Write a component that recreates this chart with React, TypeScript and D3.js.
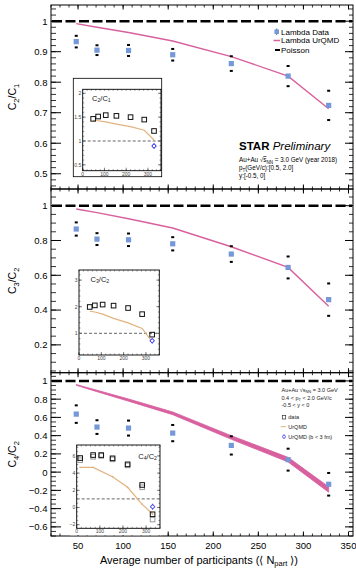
import React from 'react';
import * as d3 from 'd3';

// ---------- data ----------
const nPart = [48, 71, 106, 155, 220, 283, 328];

const c21Data = [0.933, 0.905, 0.904, 0.89, 0.861, 0.82, 0.724];
const c21Err = [0.019, 0.016, 0.018, 0.019, 0.024, 0.033, 0.048];
const c21Urqmd = [0.992, 0.98, 0.963, 0.935, 0.884, 0.82, 0.713];

const c32Data = [0.866, 0.808, 0.804, 0.781, 0.722, 0.645, 0.46];
const c32Err = [0.038, 0.034, 0.036, 0.038, 0.045, 0.063, 0.093];
const c32Urqmd = [0.981, 0.96, 0.925, 0.872, 0.764, 0.645, 0.422];

const c42Data = [0.636, 0.494, 0.483, 0.428, 0.293, 0.137, -0.133];
const c42Err = [0.096, 0.075, 0.082, 0.089, 0.1, 0.12, 0.124];
const c42Urqmd = [0.956, 0.89, 0.79, 0.645, 0.38, 0.137, -0.19];
const c42UrqmdErr = [0.004, 0.008, 0.012, 0.015, 0.02, 0.025, 0.03];

// insets (proton reference)
const inset1Data = [1.464, 1.513, 1.542, 1.527, 1.5, 1.449, 1.21];
const inset1Urqmd = [1.43, 1.425, 1.4, 1.355, 1.3, 1.225, 1.02];
const inset1B3 = 0.895;

const inset2Data = [1.99, 2.05, 2.08, 2.04, 1.95, 1.72, 0.95];
const inset2Urqmd = [1.83, 1.8, 1.72, 1.56, 1.39, 1.18, 0.68];
const inset2B3 = 0.72;

const inset3N = [15, 71, 106, 155, 220, 283, 328];
const inset3Data = [5.75, 6.1, 6.1, 5.72, 5.02, 2.62, -0.79];
const inset3Gray = [5.5, 5.9, 6.0, 5.6, 4.9, 2.35, -1.4];
const inset3UrqmdN = [15, 71, 155, 220, 283, 328];
const inset3Urqmd = [4.67, 4.67, 3.58, 2.35, 0.37, -0.76];
const inset3B3 = 0.09;

const xTickLabels = [50, 100, 150, 200, 250, 300, 350];

// ---------- style ----------
const FONT = "'Liberation Sans', Arial, Helvetica, sans-serif";
const BLUE = '#7598d8';
const PINK = '#d8609e';
const ORANGE = '#e2b37e';
const MARKBLUE = '#2f2ff0';

function rangeTicks(lo: number, hi: number, step: number) {
  const out: number[] = [];
  const start = Math.ceil(lo / step - 1e-6);
  for (let k = start; k * step <= hi + 1e-6; k++) out.push(+(k * step).toFixed(6));
  return out;
}

function fmt(v: number) {
  const s = String(+v.toFixed(2));
  return s.startsWith('-') ? '\u2212' + s.slice(1) : s;
}

type PanelSpec = {
  key: string;
  top: number;
  bottom: number;
  domain: [number, number];
  majorStep: number;
  minorStep: number;
  data: number[];
  err: number[];
  urqmd: number[];
  band: number[] | null;
  title: [string, string, string, string];
};

const x = d3.scaleLinear().domain([20, 355]).range([51, 353]);

function MainPanel({ p, showXLabels }: { p: PanelSpec; showXLabels: boolean }) {
  const y = d3.scaleLinear().domain(p.domain).range([p.bottom, p.top]);
  const [x0, x1] = x.range();
  const majors = rangeTicks(p.domain[0], p.domain[1], p.majorStep);
  const minors = rangeTicks(p.domain[0], p.domain[1], p.minorStep);
  const xMaj = rangeTicks(50, 350, 50);
  const xMin = rangeTicks(20, 355, 10);
  const line = d3
    .line<number>()
    .x((_, i) => x(nPart[i]))
    .y((d) => y(d));
  const area = d3
    .area<number>()
    .x((_, i) => x(nPart[i]))
    .y0((d, i) => y(d - (p.band ? p.band[i] : 0)))
    .y1((d, i) => y(d + (p.band ? p.band[i] : 0)));
  const midY = (p.top + p.bottom) / 2;
  return (
    <g>
      {minors.map((v) => (
        <g key={'mi' + v}>
          <line x1={x0} x2={x0 + 5} y1={y(v)} y2={y(v)} stroke="#000" strokeWidth={0.8} />
          <line x1={x1} x2={x1 - 4} y1={y(v)} y2={y(v)} stroke="#000" strokeWidth={0.8} />
        </g>
      ))}
      {majors.map((v) => (
        <g key={'ma' + v}>
          <line x1={x0} x2={x0 + 10} y1={y(v)} y2={y(v)} stroke="#000" strokeWidth={1} />
          <line x1={x1} x2={x1 - 8} y1={y(v)} y2={y(v)} stroke="#000" strokeWidth={1} />
          <text x={47.5} y={y(v) + 3.4} textAnchor="end" fontSize={9.5} fontFamily={FONT}>
            {fmt(v)}
          </text>
        </g>
      ))}
      {xMin.map((v) => (
        <g key={'xm' + v}>
          <line x1={x(v)} x2={x(v)} y1={p.bottom} y2={p.bottom - 2.5} stroke="#000" strokeWidth={0.8} />
          <line x1={x(v)} x2={x(v)} y1={p.top} y2={p.top + 2.5} stroke="#000" strokeWidth={0.8} />
        </g>
      ))}
      {xMaj.map((v) => (
        <g key={'xM' + v}>
          <line x1={x(v)} x2={x(v)} y1={p.bottom} y2={p.bottom - 4.5} stroke="#000" strokeWidth={1} />
          <line x1={x(v)} x2={x(v)} y1={p.top} y2={p.top + 4.5} stroke="#000" strokeWidth={1} />
        </g>
      ))}
      {showXLabels &&
        xTickLabels.map((v) => (
          <text key={'xl' + v} x={x(v)} y={p.bottom + 13} textAnchor="middle" fontSize={9.5} fontFamily={FONT}>
            {v}
          </text>
        ))}
      <rect x={x0} y={p.top} width={x1 - x0} height={p.bottom - p.top} fill="none" stroke="#000" strokeWidth={1} />
      <line x1={x0 + 1} x2={x1 - 1} y1={y(1)} y2={y(1)} stroke="#000" strokeWidth={2.5} strokeDasharray="10 3.5" />
      {p.band ? (
        <path d={area(p.urqmd) || ''} fill={PINK} stroke={PINK} strokeWidth={0.8} />
      ) : (
        <path d={line(p.urqmd) || ''} fill="none" stroke={PINK} strokeWidth={1.4} />
      )}
      {p.data.map((v, i) => (
        <g key={'d' + i}>
          <rect x={x(nPart[i]) - 1.5} y={y(v + p.err[i]) - 1} width={3} height={2} fill="#000" />
          <rect x={x(nPart[i]) - 1.5} y={y(v - p.err[i]) - 1} width={3} height={2} fill="#000" />
          <rect x={x(nPart[i]) - 2.6} y={y(v) - 2.6} width={5.2} height={5.2} fill={BLUE} />
        </g>
      ))}
      <text transform={`translate(16,${midY}) rotate(-90)`} textAnchor="middle" fontSize={10.5} fontFamily={FONT}>
        {p.title[0]}
        <tspan fontSize={7.5} dy={2.5}>{p.title[1]}</tspan>
        <tspan dy={-2.5}>{p.title[2]}</tspan>
        <tspan fontSize={7.5} dy={2.5}>{p.title[3]}</tspan>
      </text>
    </g>
  );
}

type InsetSpec = {
  frame: { x0: number; x1: number; y0: number; y1: number };
  outer?: { x0: number; x1: number; y0: number; y1: number };
  yDomain: [number, number];
  yMajor: number[];
  yMinorStep: number;
  n: number[];
  data: number[];
  gray?: number[];
  urqmdN: number[];
  urqmd: number[];
  dots?: boolean;
  b3: number;
  label: [string, string, string, string];
  labelX: number;
  labelY: number;
  labelAnchor: 'start' | 'end';
};

function Inset({ s }: { s: InsetSpec }) {
  const { frame } = s;
  const ix = d3.scaleLinear().domain([0, 360]).range([frame.x0, frame.x1]);
  const iy = d3.scaleLinear().domain(s.yDomain).range([frame.y1, frame.y0]);
  const yMin = rangeTicks(s.yDomain[0], s.yDomain[1], s.yMinorStep);
  const xMin = rangeTicks(0, 360, 20);
  const xMaj = [0, 100, 200, 300];
  const line = d3
    .line<number>()
    .x((_, i) => ix(s.urqmdN[i]))
    .y((d) => iy(d));
  const lastN = s.n[s.n.length - 1];
  const bg = s.outer || { x0: frame.x0 - 9, x1: frame.x1 + 1, y0: frame.y0 - 2, y1: frame.y1 + 7 };
  return (
    <g fontFamily={FONT}>
      <rect x={bg.x0} y={bg.y0} width={bg.x1 - bg.x0} height={bg.y1 - bg.y0} fill="#fff" stroke={s.outer ? '#000' : 'none'} strokeWidth={0.8} />
      {yMin.map((v) => (
        <g key={'ym' + v}>
          <line x1={frame.x0} x2={frame.x0 + 1.5} y1={iy(v)} y2={iy(v)} stroke="#333" strokeWidth={0.5} />
          <line x1={frame.x1} x2={frame.x1 - 1.5} y1={iy(v)} y2={iy(v)} stroke="#333" strokeWidth={0.5} />
        </g>
      ))}
      {s.yMajor.map((v) => (
        <g key={'yM' + v}>
          <line x1={frame.x0} x2={frame.x0 + 3} y1={iy(v)} y2={iy(v)} stroke="#333" strokeWidth={0.6} />
          <line x1={frame.x1} x2={frame.x1 - 3} y1={iy(v)} y2={iy(v)} stroke="#333" strokeWidth={0.6} />
          <text x={frame.x0 - 1.5} y={iy(v) + 1.8} textAnchor="end" fontSize={5} fill="#444">
            {fmt(v)}
          </text>
        </g>
      ))}
      {xMin.map((v) => (
        <g key={'xm' + v}>
          <line x1={ix(v)} x2={ix(v)} y1={frame.y1} y2={frame.y1 - 1.5} stroke="#333" strokeWidth={0.5} />
          <line x1={ix(v)} x2={ix(v)} y1={frame.y0} y2={frame.y0 + 1.5} stroke="#333" strokeWidth={0.5} />
        </g>
      ))}
      {xMaj.map((v) => (
        <g key={'xM' + v}>
          <line x1={ix(v)} x2={ix(v)} y1={frame.y1} y2={frame.y1 - 3} stroke="#333" strokeWidth={0.6} />
          <text x={ix(v)} y={frame.y1 + 5} textAnchor="middle" fontSize={5} fill="#444">
            {v}
          </text>
        </g>
      ))}
      <rect x={frame.x0} y={frame.y0} width={frame.x1 - frame.x0} height={frame.y1 - frame.y0} fill="none" stroke="#000" strokeWidth={0.9} />
      <line x1={frame.x0} x2={frame.x1} y1={iy(1)} y2={iy(1)} stroke="#666" strokeWidth={1} strokeDasharray="3 2" />
      <path d={line(s.urqmd) || ''} fill="none" stroke={ORANGE} strokeWidth={1.2} />
      {s.dots &&
        s.urqmd.map((v, i) => <circle key={'od' + i} cx={ix(s.urqmdN[i])} cy={iy(v)} r={0.9} fill={ORANGE} />)}
      {s.gray &&
        s.gray.map((v, i) => (
          <rect key={'g' + i} x={ix(s.n[i]) - 2.3} y={iy(v) - 2.3} width={4.6} height={4.6} fill="none" stroke="#9a9a9a" strokeWidth={1} />
        ))}
      {s.data.map((v, i) => (
        <rect key={'s' + i} x={ix(s.n[i]) - 2.3} y={iy(v) - 2.3} width={4.6} height={4.6} fill="none" stroke="#111" strokeWidth={1} />
      ))}
      <g>
        <line x1={ix(lastN)} x2={ix(lastN)} y1={iy(s.b3) - 3} y2={iy(s.b3) + 3} stroke={MARKBLUE} strokeWidth={0.9} />
        <line x1={ix(lastN) - 2.5} x2={ix(lastN) + 2.5} y1={iy(s.b3)} y2={iy(s.b3)} stroke={MARKBLUE} strokeWidth={0.9} />
        <circle cx={ix(lastN)} cy={iy(s.b3)} r={1.8} fill="#fff" stroke={MARKBLUE} strokeWidth={0.9} />
      </g>
      <text x={s.labelX} y={s.labelY} textAnchor={s.labelAnchor} fontSize={7.5} fill="#222">
        {s.label[0]}
        <tspan fontSize={5.2} dy={1.8}>{s.label[1]}</tspan>
        <tspan dy={-1.8}>{s.label[2]}</tspan>
        <tspan fontSize={5.2} dy={1.8}>{s.label[3]}</tspan>
      </text>
    </g>
  );
}

export default function App() {
  const panels: PanelSpec[] = [
    { key: 'p1', top: 5, bottom: 189, domain: [0.45, 1.053], majorStep: 0.1, minorStep: 0.02, data: c21Data, err: c21Err, urqmd: c21Urqmd, band: null, title: ['C', '2', '/C', '1'] },
    { key: 'p2', top: 189, bottom: 372.7, domain: [0.04, 1.096], majorStep: 0.2, minorStep: 0.05, data: c32Data, err: c32Err, urqmd: c32Urqmd, band: null, title: ['C', '3', '/C', '2'] },
    { key: 'p3', top: 372.7, bottom: 536, domain: [-0.7, 1.09], majorStep: 0.2, minorStep: 0.05, data: c42Data, err: c42Err, urqmd: c42Urqmd, band: c42UrqmdErr, title: ['C', '4', '/C', '2'] },
  ];

  const insets: InsetSpec[] = [
    {
      frame: { x0: 82.7, x1: 161, y0: 89.3, y1: 170.7 },
      outer: { x0: 73.3, x1: 161.7, y0: 78.3, y1: 176.7 },
      yDomain: [0.377, 2.084], yMajor: [0.5, 1, 1.5, 2], yMinorStep: 0.1,
      n: nPart, data: inset1Data, urqmdN: nPart, urqmd: inset1Urqmd, b3: inset1B3,
      label: ['C', '2', '/C', '1'], labelX: 92, labelY: 100.5, labelAnchor: 'start',
    },
    {
      frame: { x0: 79, x1: 159.3, y0: 270, y1: 355 },
      yDomain: [0.184, 3.38], yMajor: [1, 2, 3], yMinorStep: 0.2,
      n: nPart, data: inset2Data, urqmdN: nPart, urqmd: inset2Urqmd, b3: inset2B3,
      label: ['C', '3', '/C', '2'], labelX: 90.5, labelY: 281.5, labelAnchor: 'start',
    },
    {
      frame: { x0: 76.7, x1: 160, y0: 445, y1: 528.3 },
      yDomain: [-2.42, 7.27], yMajor: [-2, 0, 2, 4, 6], yMinorStep: 0.5,
      n: inset3N, data: inset3Data, gray: inset3Gray, urqmdN: inset3UrqmdN, urqmd: inset3Urqmd, dots: true, b3: inset3B3,
      label: ['C', '4', '/C', '2'], labelX: 157, labelY: 458.5, labelAnchor: 'end',
    },
  ];

  return (
    <svg width={356} height={570} style={{ position: 'absolute', left: 0, top: 0, background: '#fff' }} fontFamily={FONT}>
      <rect x={0} y={0} width={356} height={570} fill="#fff" />
      {panels.map((p, i) => (
        <MainPanel key={p.key} p={p} showXLabels={i === 2} />
      ))}
      {insets.map((s, i) => (
        <Inset key={'in' + i} s={s} />
      ))}

      <g fontSize={8} fontFamily={FONT}>
        <line x1={276.7} x2={276.7} y1={28.5} y2={35} stroke="#000" strokeWidth={0.6} />
        <rect x={274.4} y={29.4} width={4.6} height={4.6} fill={BLUE} />
        <text x={281} y={34.6}>Lambda Data</text>
        <line x1={273.5} x2={280} y1={40.5} y2={40.5} stroke={PINK} strokeWidth={1.5} />
        <text x={281} y={43.4}>Lambda UrQMD</text>
        <line x1={275} x2={280} y1={50} y2={50} stroke="#000" strokeWidth={2} />
        <text x={281} y={52.9}>Poisson</text>
      </g>

      <text x={239} y={149.5} fontSize={11.5} fontFamily={FONT}>
        <tspan fontWeight="bold">STAR</tspan>
        <tspan fontStyle="italic"> Preliminary</tspan>
      </text>
      <g fontSize={6.3} fontFamily={FONT}>
        <text x={239} y={162}>
          Au+Au √<tspan textDecoration="overline">s</tspan>
          <tspan fontSize={4.5} dy={1.5}>NN</tspan>
          <tspan dy={-1.5}> = 3.0 GeV (year 2018)</tspan>
        </text>
        <text x={239} y={170}>
          p<tspan fontSize={4.5} dy={1.5}>T</tspan>
          <tspan dy={-1.5}>(GeV/c):[0.5, 2.0]</tspan>
        </text>
        <text x={239} y={177.5}>y:[-0.5, 0]</text>
      </g>

      <g fontSize={5.5} fontFamily={FONT} fill="#222">
        <text x={281.5} y={392}>
          Au+Au √s<tspan fontSize={4} dy={1.2}>NN</tspan>
          <tspan dy={-1.2}> = 3.0 GeV</tspan>
        </text>
        <text x={281.5} y={399.7}>
          0.4 &lt; p<tspan fontSize={4} dy={1.2}>T</tspan>
          <tspan dy={-1.2}> &lt; 2.0 GeV/c</tspan>
        </text>
        <text x={281.5} y={406.5}>-0.5 &lt; y &lt; 0</text>
        <rect x={282.3} y={415.6} width={3.4} height={3.4} fill="none" stroke="#333" strokeWidth={0.7} />
        <text x={288.3} y={419.3}>data</text>
        <line x1={280.7} x2={286} y1={426.7} y2={426.7} stroke={ORANGE} strokeWidth={1} />
        <text x={288.3} y={428.7}>UrQMD</text>
        <line x1={284} x2={284} y1={434.4} y2={439} stroke={MARKBLUE} strokeWidth={0.7} />
        <circle cx={284} cy={436.7} r={1.5} fill="#fff" stroke={MARKBLUE} strokeWidth={0.7} />
        <text x={288.3} y={438.7}>UrQMD (b &lt; 3 fm)</text>
      </g>

      <text x={199} y={563.5} textAnchor="middle" fontSize={11} fontFamily={FONT}>
        Average number of participants (⟨ N<tspan fontSize={7.5} dy={2.5}>part</tspan>
        <tspan dy={-2.5}> ⟩)</tspan>
      </text>
    </svg>
  );
}
